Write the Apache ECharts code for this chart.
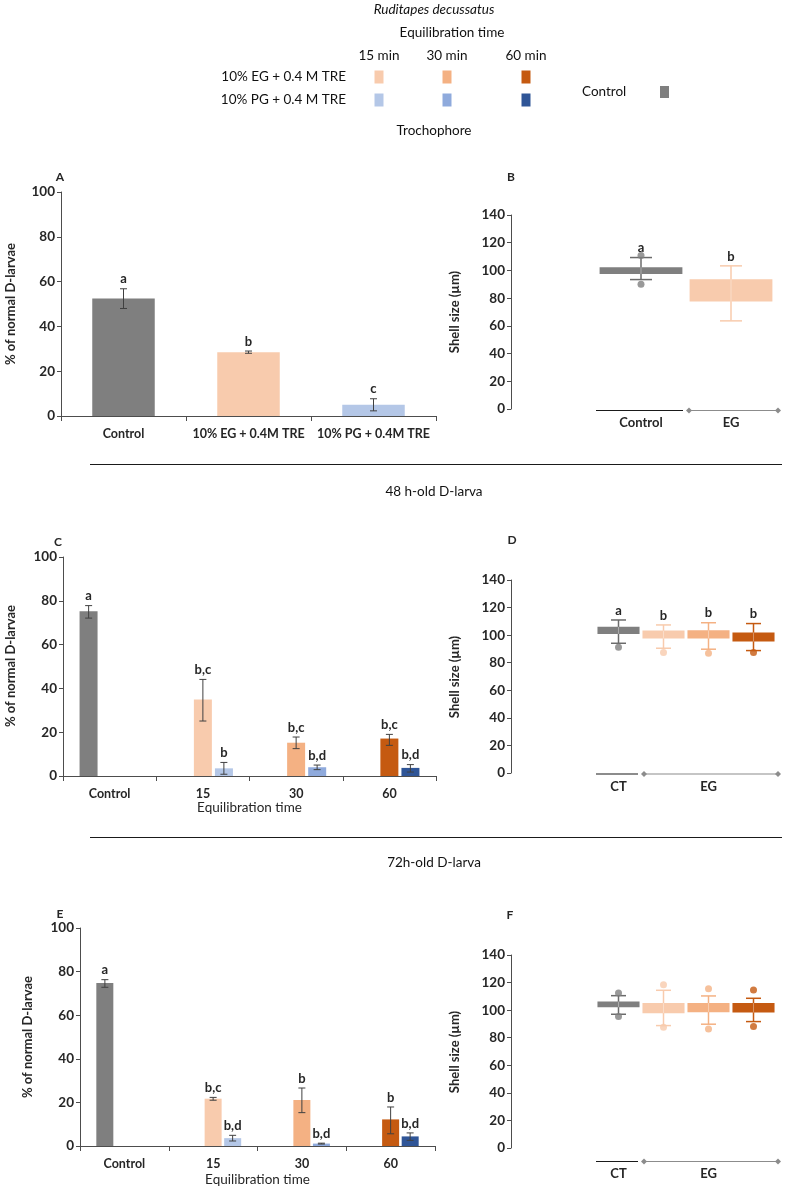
<!DOCTYPE html>
<html><head><meta charset="utf-8">
<script src="https://cdn.jsdelivr.net/npm/echarts@6/dist/echarts.min.js"></script>
<style>html,body{margin:0;padding:0;background:#fff}#chart{width:786px;height:1192px}</style>
</head><body><div id="chart"></div>
<script>
// ---------------- data ----------------
const speciesTitle = 'Ruditapes decussatus';
const legendTitle = 'Equilibration time';
const legendTimes = ['15 min', '30 min', '60 min'];
const legendTreatments = ['10% EG + 0.4 M TRE', '10% PG + 0.4 M TRE'];
const legendControl = 'Control';
const stageTitles = ['Trochophore', '48 h-old D-larva', '72h-old D-larva'];
const pctTitle = '% of normal D-larvae';
const shellTitle = 'Shell size (µm)';
const xTitle = 'Equilibration time';
const pctAxis = [0, 100, 20];     // min, max, interval
const shellAxis = [0, 140, 20];   // min, max, interval

// Panel A (trochophore, % normal)
const aCategories = ['Control', '10% EG + 0.4M TRE', '10% PG + 0.4M TRE'];
const aValues = [52.5, 28.5, 5.0];
const aLow = [48.0, 28.0, 2.3];
const aHigh = [56.8, 29.0, 7.7];
const aLetters = ['a', 'b', 'c'];

// Panels C / E categories
const timeCategories = ['Control', '15', '30', '60'];

// Panel C (48 h)
const cControl = [75.2, null, null, null];
const cControlLow = [72.1, null, null, null];
const cControlHigh = [77.8, null, null, null];
const cControlLetters = ['a', '', '', ''];
const cEG = [null, 34.9, 15.2, 17.1];
const cEGLow = [null, 25.1, 12.5, 14.0];
const cEGHigh = [null, 44.1, 17.8, 19.0];
const cEGLetters = ['', 'b,c', 'b,c', 'b,c'];
const cPG = [null, 3.5, 4.0, 3.7];
const cPGLow = [null, 0.8, 2.9, 1.8];
const cPGHigh = [null, 6.2, 5.0, 5.2];
const cPGLetters = ['', 'b', 'b,d', 'b,d'];

// Panel E (72 h)
const eControl = [74.8, null, null, null];
const eControlLow = [72.8, null, null, null];
const eControlHigh = [76.3, null, null, null];
const eControlLetters = ['a', '', '', ''];
const eEG = [null, 21.7, 21.1, 12.2];
const eEGLow = [null, 21.0, 15.3, 5.6];
const eEGHigh = [null, 22.3, 26.6, 17.9];
const eEGLetters = ['', 'b,c', 'b', 'b'];
const ePG = [null, 3.6, 1.1, 4.4];
const ePGLow = [null, 2.3, 0.9, 2.6];
const ePGHigh = [null, 4.9, 1.3, 6.0];
const ePGLetters = ['', 'b,d', 'b,d', 'b,d'];

// Panel B (trochophore shell size)
const bCategories = ['Control', 'EG'];
const bMin = [93.4, 63.6];
const bQ1 = [97.5, 77.6];
const bQ3 = [102.3, 93.7];
const bMax = [109.3, 103.3];
const bOutliers = [[0, 110.7], [0, 90.0]];
const bLetters = ['a', 'b'];
const bGroups = [[0, 0, 'Control'], [1, 1, 'EG']];

// Panel D (48 h shell size)
const dCategories = ['CT', 'EG 15', 'EG 30', 'EG 60'];
const dMin = [94.1, 90.5, 89.8, 88.8];
const dQ1 = [100.9, 97.5, 97.5, 95.3];
const dQ3 = [106.0, 103.3, 103.5, 102.0];
const dMax = [111.0, 107.4, 109.0, 108.4];
const dOutliers = [[0, 91.2], [1, 87.4], [2, 86.9], [3, 87.4]];
const dLetters = ['a', 'b', 'b', 'b'];
const dGroups = [[0, 0, 'CT'], [1, 3, 'EG']];

// Panel F (72 h shell size)
const fCategories = ['CT', 'EG 15', 'EG 30', 'EG 60'];
const fMin = [97.0, 88.8, 89.8, 91.7];
const fQ1 = [102.1, 97.8, 98.5, 98.2];
const fQ3 = [106.2, 105.2, 105.2, 105.2];
const fMax = [110.5, 114.4, 110.3, 108.6];
const fOutliers = [[0, 112.5], [0, 95.3], [1, 118.5], [1, 87.6], [2, 115.6], [2, 86.4], [3, 114.6], [3, 88.1]];
const fLetters = ['', '', '', ''];
const fGroups = [[0, 0, 'CT'], [1, 3, 'EG']];

// ---------------- styles ----------------
const FONT = 'Lato, "Open Sans", sans-serif';
const TXT = '#262626';
const AXIS = '#4d4d4d';
const ERR = '#404040';
const CTRL = '#7f7f7f';
const EGC = ['#f8cbad', '#f4b183', '#c55a11'];
const PGC = ['#b4c7e7', '#8faadc', '#2f5597'];
const boxColors4 = [CTRL, EGC[0], EGC[1], EGC[2]];
const whiskerColors4 = ['#6b6b6b', EGC[0], EGC[1], EGC[2]];

const chart = echarts.init(document.getElementById('chart'), null, {renderer: 'canvas'});

function yAxisDef(gi, range, offset) {
  return {
    gridIndex: gi, type: 'value', min: range[0], max: range[1], interval: range[2], offset: offset || 0,
    axisLine: {show: true, lineStyle: {color: AXIS, width: 1}},
    axisTick: {show: true, length: 4, lineStyle: {color: AXIS}},
    axisLabel: {color: TXT, fontFamily: FONT, fontWeight: 'bold', fontSize: 13.5, margin: 6},
    splitLine: {show: false}
  };
}
function catAxisDef(gi, cats, name, nameGap) {
  return {
    gridIndex: gi, type: 'category', data: cats,
    axisLine: {show: true, lineStyle: {color: AXIS, width: 1}},
    axisTick: {show: true, length: 5, lineStyle: {color: AXIS}},
    axisLabel: {interval: 0, color: TXT, fontFamily: FONT, fontWeight: 'bold', fontSize: 12.5, margin: 11},
    name: name || '', nameLocation: 'middle', nameGap: nameGap || 0,
    nameTextStyle: {color: TXT, fontFamily: FONT, fontSize: 13.5, fontWeight: 'normal'}
  };
}
function hiddenCat(gi, cats) {
  return {gridIndex: gi, type: 'category', data: cats, show: false};
}
function barSeries(gi, values, colors, barW, gap) {
  return {
    type: 'bar', xAxisIndex: gi, yAxisIndex: gi, barWidth: barW, barGap: gap,
    data: values.map((v, i) => v == null ? null : {value: v, itemStyle: {color: colors[i]}}),
    silent: true
  };
}
function errSeries(gi, values, lows, highs, letters, offsetPx) {
  const data = [], labs = [];
  values.forEach((v, i) => { if (v != null) { data.push([i, v, lows[i], highs[i]]); labs.push(letters[i]); } });
  return {
    type: 'custom', xAxisIndex: gi, yAxisIndex: gi, z: 5, clip: false, silent: true, data: data,
    renderItem: function (params, api) {
      const cat = api.value(0);
      const x = api.coord([cat, 0])[0] + offsetPx;
      const yl = api.coord([cat, api.value(2)])[1];
      const yh = api.coord([cat, api.value(3)])[1];
      const st = {stroke: ERR, lineWidth: 1};
      const h = 3.5;
      return {type: 'group', children: [
        {type: 'line', shape: {x1: x, y1: yl, x2: x, y2: yh}, style: st},
        {type: 'line', shape: {x1: x - h, y1: yh, x2: x + h, y2: yh}, style: st},
        {type: 'line', shape: {x1: x - h, y1: yl, x2: x + h, y2: yl}, style: st},
        {type: 'text', style: {text: labs[params.dataIndex], x: x, y: yh - 3, align: 'center', verticalAlign: 'bottom',
          textAlign: 'center', textVerticalAlign: 'bottom', fill: TXT, font: 'bold 13px ' + FONT}}
      ]};
    }
  };
}
function boxSeries(gi, mins, q1s, q3s, maxs, fills, whisk, frac, capW, letters) {
  return {
    type: 'custom', xAxisIndex: gi, yAxisIndex: gi, z: 4, clip: false, silent: true,
    data: mins.map((m, i) => [i, m, q1s[i], q3s[i], maxs[i]]),
    renderItem: function (params, api) {
      const i = params.dataIndex;
      const cat = api.value(0);
      const cx = api.coord([cat, 0])[0];
      const bw = api.size([1, 0])[0] * frac;
      const yMin = api.coord([cat, api.value(1)])[1];
      const yQ1 = api.coord([cat, api.value(2)])[1];
      const yQ3 = api.coord([cat, api.value(3)])[1];
      const yMax = api.coord([cat, api.value(4)])[1];
      const ws = {stroke: whisk[i], lineWidth: 1.5};
      const ch = [
        {type: 'line', shape: {x1: cx, y1: yMax, x2: cx, y2: yMin}, style: ws},
        {type: 'rect', shape: {x: cx - bw / 2, y: yQ3, width: bw, height: yQ1 - yQ3}, style: {fill: fills[i]}},
        {type: 'line', shape: {x1: cx, y1: yQ3, x2: cx, y2: yQ1}, style: {stroke: '#ffffff', opacity: 0.35, lineWidth: 1}},
        {type: 'line', shape: {x1: cx - capW / 2, y1: yMax, x2: cx + capW / 2, y2: yMax}, style: ws},
        {type: 'line', shape: {x1: cx - capW / 2, y1: yMin, x2: cx + capW / 2, y2: yMin}, style: ws}
      ];
      if (letters[i]) {
        ch.push({type: 'text', style: {text: letters[i], x: cx, y: yMax - 3, align: 'center', verticalAlign: 'bottom',
          textAlign: 'center', textVerticalAlign: 'bottom', fill: TXT, font: 'bold 13px ' + FONT}});
      }
      return {type: 'group', children: ch};
    }
  };
}
function outlierSeries(gi, pts, colors) {
  return {
    type: 'scatter', xAxisIndex: gi, yAxisIndex: gi, z: 6, silent: true, symbol: 'circle', symbolSize: 7,
    data: pts.map(p => ({value: p, itemStyle: {color: colors[p[0]]}}))
  };
}
function groupLineSeries(gi, groups, dropPx) {
  return {
    type: 'custom', xAxisIndex: gi, yAxisIndex: gi, z: 3, clip: false, silent: true,
    data: groups.map(g => [g[0], g[1]]),
    renderItem: function (params, api) {
      const i = params.dataIndex;
      const cw = api.size([1, 0])[0];
      const base = api.coord([0, 0])[1] + dropPx;
      const xs = api.coord([api.value(0), 0])[0] - cw / 2;
      const xe = api.coord([api.value(1), 0])[0] + cw / 2;
      const ch = [];
      if (i === 0) {
        ch.push({type: 'line', shape: {x1: xs, y1: base, x2: xe - 3, y2: base}, style: {stroke: '#1a1a1a', lineWidth: 1.2}});
      } else {
        const a = xs + 3, b = xe + 2;
        ch.push({type: 'line', shape: {x1: a, y1: base, x2: b, y2: base}, style: {stroke: '#8c8c8c', lineWidth: 1.2}});
        [a, b].forEach(px => ch.push({type: 'polygon', shape: {points: [[px - 3, base], [px, base - 3], [px + 3, base], [px, base + 3]]}, style: {fill: '#8c8c8c'}}));
      }
      ch.push({type: 'text', style: {text: groups[i][2], x: (xs + xe) / 2, y: base + 6, align: 'center', verticalAlign: 'top',
        textAlign: 'center', textVerticalAlign: 'top', fill: TXT, font: 'bold 13px ' + FONT}});
      return {type: 'group', children: ch};
    }
  };
}

// ---------------- graphic (titles, legend, separators) ----------------
function txt(x, y, s, opt) {
  opt = opt || {};
  return {type: 'text', x: x, y: y, rotation: opt.rot || 0, silent: true,
    style: {text: s, fill: opt.color || '#111', font: (opt.font || 'normal 13.5px') + ' ' + FONT,
      align: opt.align || 'center', verticalAlign: 'middle', textAlign: opt.align || 'center', textVerticalAlign: 'middle'}};
}
const graphics = [];
graphics.push(txt(434, 10, speciesTitle, {font: 'italic 13.5px'}));
graphics.push(txt(452, 33, legendTitle));
const legendX = [379, 447, 526];
legendTimes.forEach((t, i) => graphics.push(txt(legendX[i], 56, t)));
const legendRowsY = [77, 100];
legendTreatments.forEach((t, r) => {
  graphics.push(txt(346, legendRowsY[r], t, {align: 'right'}));
  const cols = r === 0 ? EGC : PGC;
  legendX.forEach((x, i) => graphics.push({type: 'rect', silent: true, shape: {x: x - 4.5, y: legendRowsY[r] - 6.5, width: 9, height: 13}, style: {fill: cols[i]}}));
});
graphics.push(txt(582, 92, legendControl, {align: 'left'}));
graphics.push({type: 'rect', silent: true, shape: {x: 660, y: 86, width: 9, height: 12}, style: {fill: CTRL}});
const stageY = [131, 492, 863];
stageTitles.forEach((t, i) => graphics.push(txt(434, stageY[i], t)));
[464, 837].forEach(y => graphics.push({type: 'line', silent: true, shape: {x1: 90, y1: y + 0.5, x2: 782, y2: y + 0.5}, style: {stroke: '#1a1a1a', lineWidth: 1}}));
const panelLetters = [['A', 60, 177], ['B', 511, 177], ['C', 58, 542], ['D', 512, 540], ['E', 60, 914], ['F', 510, 915]];
panelLetters.forEach(p => graphics.push(txt(p[1], p[2], p[0], {font: 'bold 12px', color: TXT})));
const pctTitlePos = [[11, 304], [11, 666], [28, 1037]];
pctTitlePos.forEach(p => graphics.push(txt(p[0], p[1], pctTitle, {rot: Math.PI / 2, font: 'bold 13px', color: TXT})));
const shellTitlePos = [[455, 312], [455, 677], [455, 1052]];
shellTitlePos.forEach(p => graphics.push(txt(p[0], p[1], shellTitle, {rot: Math.PI / 2, font: 'bold 13px', color: TXT})));

// ---------------- option ----------------
const option = {
  animation: false,
  textStyle: {fontFamily: FONT},
  grid: [
    {left: 61, top: 192, width: 375, height: 224},   // 0 A
    {left: 63, top: 557, width: 373, height: 219},   // 1 C
    {left: 80, top: 928, width: 355, height: 218},   // 2 E
    {left: 596, top: 215, width: 180, height: 194},  // 3 B
    {left: 596, top: 580, width: 180, height: 193},  // 4 D
    {left: 596, top: 955, width: 180, height: 193}   // 5 F
  ],
  xAxis: [
    catAxisDef(0, aCategories),
    catAxisDef(1, timeCategories, xTitle, 25),
    catAxisDef(2, timeCategories, xTitle, 27),
    hiddenCat(3, bCategories),
    hiddenCat(4, dCategories),
    hiddenCat(5, fCategories)
  ],
  yAxis: [
    yAxisDef(0, pctAxis),
    yAxisDef(1, pctAxis),
    yAxisDef(2, pctAxis),
    yAxisDef(3, shellAxis, 85),
    yAxisDef(4, shellAxis, 85),
    yAxisDef(5, shellAxis, 85)
  ],
  series: [
    barSeries(0, aValues, [CTRL, EGC[0], PGC[0]], '50%', '0%'),
    errSeries(0, aValues, aLow, aHigh, aLetters, 0),

    barSeries(1, cControl, [CTRL, CTRL, CTRL, CTRL], 18, '17%'),
    barSeries(1, cEG, [null, EGC[0], EGC[1], EGC[2]], 18, '17%'),
    barSeries(1, cPG, [null, PGC[0], PGC[1], PGC[2]], 18, '17%'),
    errSeries(1, cControl, cControlLow, cControlHigh, cControlLetters, -21),
    errSeries(1, cEG, cEGLow, cEGHigh, cEGLetters, 0),
    errSeries(1, cPG, cPGLow, cPGHigh, cPGLetters, 21),

    barSeries(2, eControl, [CTRL, CTRL, CTRL, CTRL], 17, '15%'),
    barSeries(2, eEG, [null, EGC[0], EGC[1], EGC[2]], 17, '15%'),
    barSeries(2, ePG, [null, PGC[0], PGC[1], PGC[2]], 17, '15%'),
    errSeries(2, eControl, eControlLow, eControlHigh, eControlLetters, -19.5),
    errSeries(2, eEG, eEGLow, eEGHigh, eEGLetters, 0),
    errSeries(2, ePG, ePGLow, ePGHigh, ePGLetters, 19.5),

    boxSeries(3, bMin, bQ1, bQ3, bMax, [CTRL, EGC[0]], ['#6b6b6b', EGC[0]], 0.92, 22, bLetters),
    outlierSeries(3, bOutliers, [CTRL, EGC[0]]),
    groupLineSeries(3, bGroups, 1.5),

    boxSeries(4, dMin, dQ1, dQ3, dMax, boxColors4, whiskerColors4, 0.935, 15, dLetters),
    outlierSeries(4, dOutliers, boxColors4),
    groupLineSeries(4, dGroups, 1),

    boxSeries(5, fMin, fQ1, fQ3, fMax, boxColors4, whiskerColors4, 0.935, 15, fLetters),
    outlierSeries(5, fOutliers, boxColors4),
    groupLineSeries(5, fGroups, 13.5)
  ],
  graphic: graphics
};
chart.setOption(option);
</script></body></html>
